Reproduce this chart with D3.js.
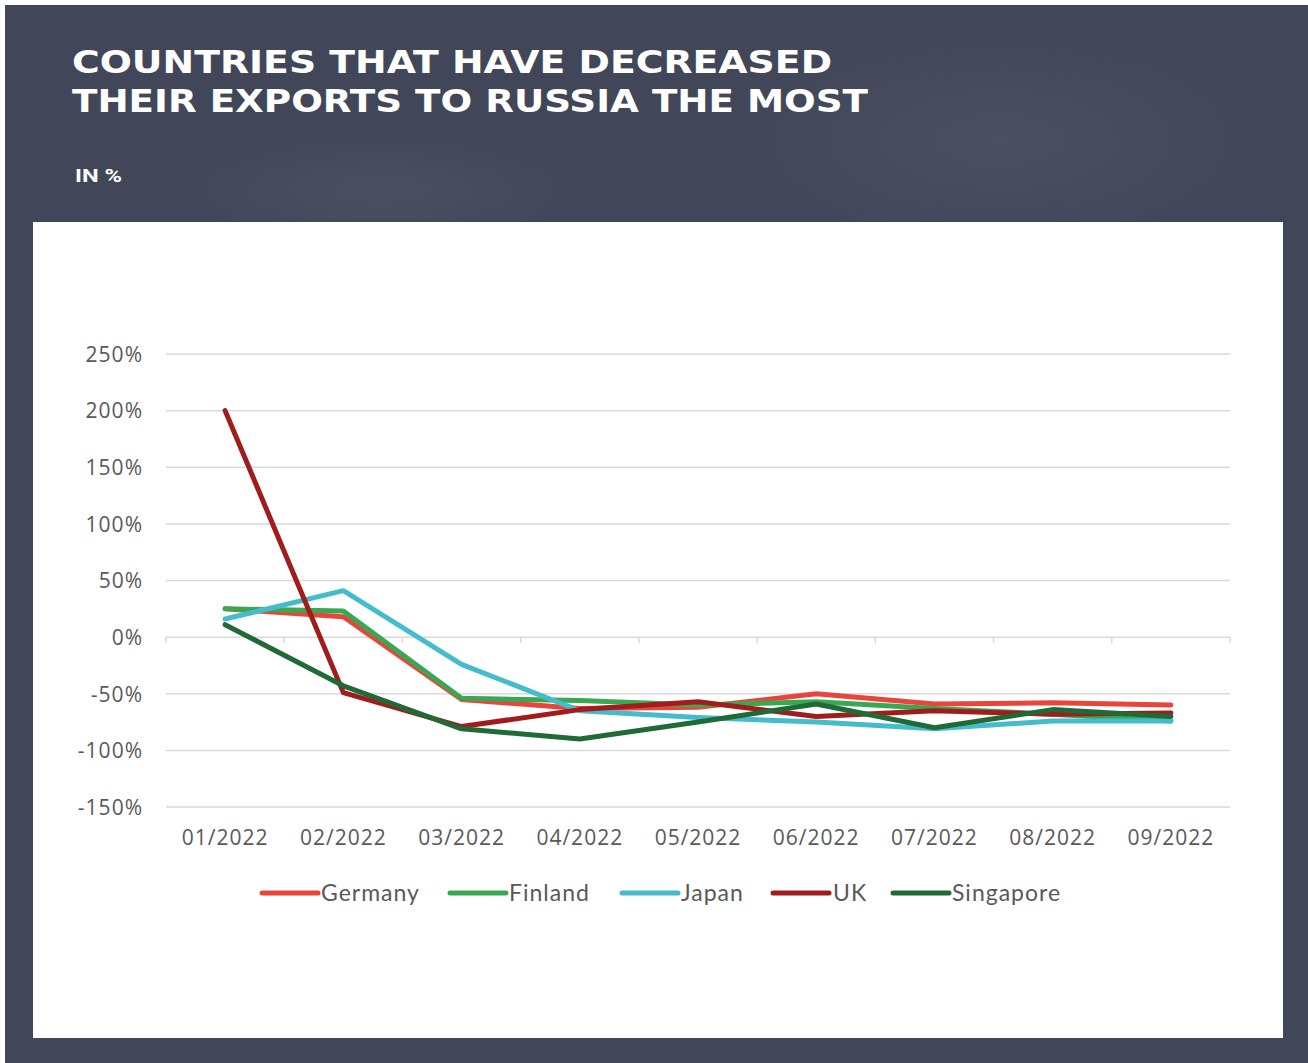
<!DOCTYPE html>
<html><head><meta charset="utf-8">
<script src="https://cdn.jsdelivr.net/npm/d3@7"></script>
<style>
html,body{margin:0;padding:0;background:#fff;}
svg{display:block;}
</style></head>
<body>
<script>
const months = ["01/2022","02/2022","03/2022","04/2022","05/2022","06/2022","07/2022","08/2022","09/2022"];
const yTicks = [250,200,150,100,50,0,-50,-100,-150];
const germany   = [25, 18, -55, -63, -62, -50, -59, -58, -60];
const finland   = [25, 23, -54, -56, -60, -57, -63, -68, -74];
const japan     = [16, 41, -24, -65, -71, -75, -81, -74, -74];
const uk        = [200, -49, -79, -64, -57, -70, -65, -68, -67];
const singapore = [11, -43, -81, -90, -75, -59, -80, -64, -70];
const seriesNames = ["Germany","Finland","Japan","UK","Singapore"];
const seriesColors = ["#e8463c","#3aa853","#45bccb","#a11c1c","#1f6a36"];
const seriesData = [germany, finland, japan, uk, singapore];

const W = 1308, H = 1063;
const svg = d3.select("body").append("svg").attr("width", W).attr("height", H);

svg.append("rect").attr("x",5).attr("y",5).attr("width",W-5).attr("height",H-5).attr("fill","#414658");
const defs = svg.append("defs");
const rg = defs.append("radialGradient").attr("id","tex");
rg.append("stop").attr("offset","0%").attr("stop-color","#5a5f70").attr("stop-opacity",0.4);
rg.append("stop").attr("offset","100%").attr("stop-color","#5a5f70").attr("stop-opacity",0);
svg.append("ellipse").attr("cx",1000).attr("cy",140).attr("rx",260).attr("ry",110).attr("fill","url(#tex)");
svg.append("ellipse").attr("cx",380).attr("cy",190).attr("rx",200).attr("ry",60).attr("fill","url(#tex)");

svg.append("text").attr("x",72).attr("y",73).text("COUNTRIES THAT HAVE DECREASED")
  .attr("font-family","DejaVu Sans").attr("font-weight","bold").attr("font-size",32)
  .attr("fill","#fff").attr("textLength",760).attr("lengthAdjust","spacingAndGlyphs");
svg.append("text").attr("x",72).attr("y",112).text("THEIR EXPORTS TO RUSSIA THE MOST")
  .attr("font-family","DejaVu Sans").attr("font-weight","bold").attr("font-size",32)
  .attr("fill","#fff").attr("textLength",796).attr("lengthAdjust","spacingAndGlyphs");
svg.append("text").attr("x",75).attr("y",182).text("IN %")
  .attr("font-family","Roboto").attr("font-weight","bold").attr("font-size",18)
  .attr("fill","#fff").attr("textLength",47).attr("lengthAdjust","spacingAndGlyphs");

svg.append("rect").attr("x",33).attr("y",222).attr("width",1250).attr("height",816).attr("fill","#fff");

const x = d3.scaleBand().domain(months).range([166,1230]);
const y = d3.scaleLinear().domain([-150,250]).range([807,354]);

svg.append("g").selectAll("line").data(yTicks).join("line")
  .attr("x1",166).attr("x2",1230).attr("y1",d=>y(d)).attr("y2",d=>y(d))
  .attr("stroke","#d9d9d9").attr("stroke-width",1.5);

const yAxis = d3.axisLeft(y).tickValues(yTicks).tickSize(0).tickPadding(0).tickFormat(d=>d+"%");
const yg = svg.append("g").attr("transform","translate(143,0)").call(yAxis);
yg.select(".domain").remove();
yg.selectAll("text").attr("font-family","Open Sans").attr("font-size",21).attr("letter-spacing","1px")
  .attr("fill","#595959").attr("dy","0.35em");

const boundaries = months.map(m=>x(m)).concat([1230]);
svg.append("g").selectAll("line").data(boundaries).join("line")
  .attr("x1",d=>d).attr("x2",d=>d).attr("y1",y(0)).attr("y2",y(0)+6)
  .attr("stroke","#d9d9d9").attr("stroke-width",1.5);

const xAxis = d3.axisBottom(x).tickSize(0).tickPadding(0);
const xg = svg.append("g").attr("transform","translate(0,838)").call(xAxis);
xg.select(".domain").remove();
xg.selectAll("text").attr("font-family","Open Sans").attr("font-size",21).attr("letter-spacing","1px")
  .attr("fill","#595959").attr("dy","0.35em");

const line = d3.line().x((d,i)=>x(months[i])+x.bandwidth()/2).y(d=>y(d));
svg.append("g").selectAll("path").data(seriesData).join("path")
  .attr("d",d=>line(d)).attr("fill","none")
  .attr("stroke",(d,i)=>seriesColors[i]).attr("stroke-width",5)
  .attr("stroke-linejoin","round").attr("stroke-linecap","round");

const legendPos = [[262,321],[450,509],[622,681],[773,833],[893,952]];
const lg = svg.append("g");
seriesNames.forEach((n,i)=>{
  const [lx,tx] = legendPos[i];
  lg.append("line").attr("x1",lx).attr("x2",lx+56).attr("y1",893).attr("y2",893)
    .attr("stroke",seriesColors[i]).attr("stroke-width",5).attr("stroke-linecap","round");
  lg.append("text").attr("x",tx).attr("y",893).attr("dy","0.35em").text(n)
    .attr("font-family","Lato").attr("font-size",23).attr("letter-spacing","1px").attr("fill","#595959");
});
</script>
</body></html>
